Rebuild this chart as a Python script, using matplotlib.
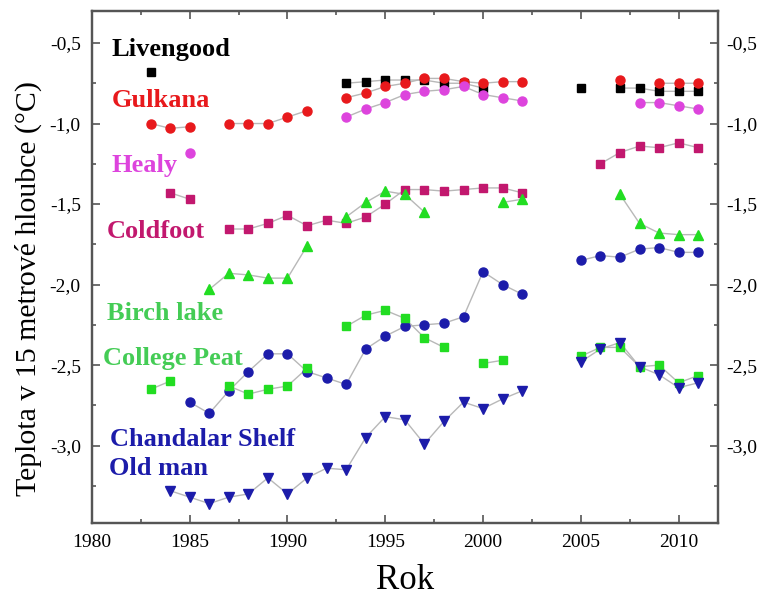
import numpy as np
import matplotlib
matplotlib.use('Agg')
import matplotlib.pyplot as plt
from matplotlib.ticker import MultipleLocator, FuncFormatter

plt.rcParams['font.family'] = ['Liberation Serif', 'DejaVu Serif']

nan = np.nan
years = np.arange(1983, 2012)

# mean annual temperature at 15 m depth, one value per year 1983..2011 (nan = no data)
livengood = [-0.68, nan, nan, nan, nan, nan, nan, nan, nan, nan,
             -0.75, -0.74, -0.73, -0.73, -0.73, -0.75, -0.75, -0.78, nan, nan,
             nan, nan, -0.78, nan, -0.78, -0.78, -0.80, -0.80, -0.80]
gulkana = [-1.00, -1.03, -1.02, nan, -1.00, -1.00, -1.00, -0.96, -0.92, nan,
           -0.84, -0.81, -0.77, -0.75, -0.72, -0.72, -0.74, -0.75, -0.74, -0.74,
           nan, nan, nan, nan, -0.73, nan, -0.75, -0.75, -0.75]
healy = [nan, nan, -1.18, nan, nan, nan, nan, nan, nan, nan,
         -0.96, -0.91, -0.87, -0.82, -0.80, -0.79, -0.77, -0.82, -0.84, -0.86,
         nan, nan, nan, nan, nan, -0.87, -0.87, -0.89, -0.91]
coldfoot = [nan, -1.43, -1.47, nan, -1.655, -1.655, -1.62, -1.57, -1.635, -1.60,
            -1.62, -1.58, -1.50, -1.41, -1.41, -1.42, -1.41, -1.40, -1.40, -1.43,
            nan, nan, nan, -1.25, -1.18, -1.14, -1.15, -1.12, -1.15]
birch_lake = [nan, nan, nan, -2.03, -1.93, -1.94, -1.96, -1.96, -1.76, nan,
              -1.58, -1.49, -1.42, -1.44, -1.55, nan, nan, nan, -1.49, -1.47,
              nan, nan, nan, nan, -1.44, -1.62, -1.68, -1.69, -1.69]
chandalar = [nan, nan, -2.73, -2.80, -2.66, -2.54, -2.43, -2.43, -2.54, -2.58,
             -2.62, -2.40, -2.32, -2.26, -2.25, -2.24, -2.20, -1.92, -2.00, -2.06,
             nan, nan, -1.85, -1.82, -1.83, -1.78, -1.77, -1.80, -1.80]
college_peat = [-2.65, -2.60, nan, nan, -2.63, -2.68, -2.65, -2.63, -2.52, nan,
                -2.26, -2.19, -2.16, -2.21, -2.33, -2.39, nan, -2.49, -2.47, nan,
                nan, nan, -2.445, -2.39, -2.39, -2.51, -2.50, -2.61, -2.565]
old_man = [nan, -3.28, -3.32, -3.36, -3.32, -3.30, -3.20, -3.30, -3.20, -3.14,
           -3.15, -2.95, -2.82, -2.84, -2.99, -2.85, -2.73, -2.77, -2.71, -2.66,
           nan, nan, -2.48, -2.40, -2.36, -2.51, -2.56, -2.64, -2.61]

black = '#000000'
red = '#e8191c'
pink = '#dd44dd'
crimson = '#c2186e'
green = '#22dd22'
green2 = '#44cc55'
navy = '#1c1caa'

# (values, color, marker, size, label, label x, label y, label color)
series = [
    (livengood, black, 's', 5.5, 'Livengood', 1981.0, -0.54, black),
    (gulkana, red, 'o', 6.5, 'Gulkana', 1981.0, -0.855, red),
    (healy, pink, 'o', 6.5, 'Healy', 1981.0, -1.26, pink),
    (coldfoot, crimson, 's', 5.5, 'Coldfoot', 1980.75, -1.67, crimson),
    (birch_lake, green, '^', 7, 'Birch lake', 1980.75, -2.18, green2),
    (chandalar, navy, 'o', 6.5, 'Chandalar Shelf', 1980.95, -2.96, navy),
    (college_peat, green, 's', 5.5, 'College Peat', 1980.55, -2.46, green2),
    (old_man, navy, 'v', 7, 'Old man', 1980.85, -3.14, navy),
]

fig = plt.figure(figsize=(7.66, 5.99), dpi=100)
ax = fig.add_axes([0.120, 0.127, 0.817, 0.855])

for vals, col, mk, ms, lab, tx, ty, tcol in series:
    v = np.array(vals, dtype=float)
    ax.plot(years, v, '-', color='#b8b8b8', lw=1, zorder=1)
    ax.plot(years, v, mk, color=col, ms=ms, mec=col, zorder=3)
    ax.text(tx, ty, lab, color=tcol, fontsize=19, fontweight='bold',
            va='center', ha='left')

ylim = (-3.48, -0.3)
fmt = FuncFormatter(lambda v, p: ('%.1f' % v).replace('.', ','))

ax.set_xlim(1980, 2012)
ax.set_ylim(*ylim)
ax.xaxis.set_major_locator(MultipleLocator(5))
ax.xaxis.set_minor_locator(MultipleLocator(2.5))
ax.yaxis.set_major_locator(MultipleLocator(0.5))
ax.yaxis.set_minor_locator(MultipleLocator(0.25))
ax.yaxis.set_major_formatter(fmt)

ax.tick_params(which='both', direction='in', top=True, right=False,
               labelsize=14, color='#555555')
ax.tick_params(axis='y', pad=8)
ax.tick_params(axis='x', pad=8)
ax.tick_params(which='major', length=6, width=1.2)
ax.tick_params(which='minor', length=3, width=1.2)

# right-hand axis repeats the temperature scale
ax2 = ax.twinx()
ax2.set_ylim(*ylim)
ax2.yaxis.set_major_locator(MultipleLocator(0.5))
ax2.yaxis.set_minor_locator(MultipleLocator(0.25))
ax2.yaxis.set_major_formatter(fmt)
ax2.tick_params(which='both', direction='in', labelsize=14, color='#555555', pad=6)
ax2.tick_params(which='major', length=6, width=1.2)
ax2.tick_params(which='minor', length=3, width=1.2)

for a in (ax, ax2):
    for s in a.spines.values():
        s.set_color('#555555')
        s.set_linewidth(1.6)

ax.set_ylabel('Teplota v 15 metrové hloubce (°C)', fontsize=21.5)
ax.yaxis.set_label_coords(-0.08, 0.457)
ax.set_xlabel('Rok', fontsize=25, labelpad=9)

fig.savefig('out.png', dpi=100)
